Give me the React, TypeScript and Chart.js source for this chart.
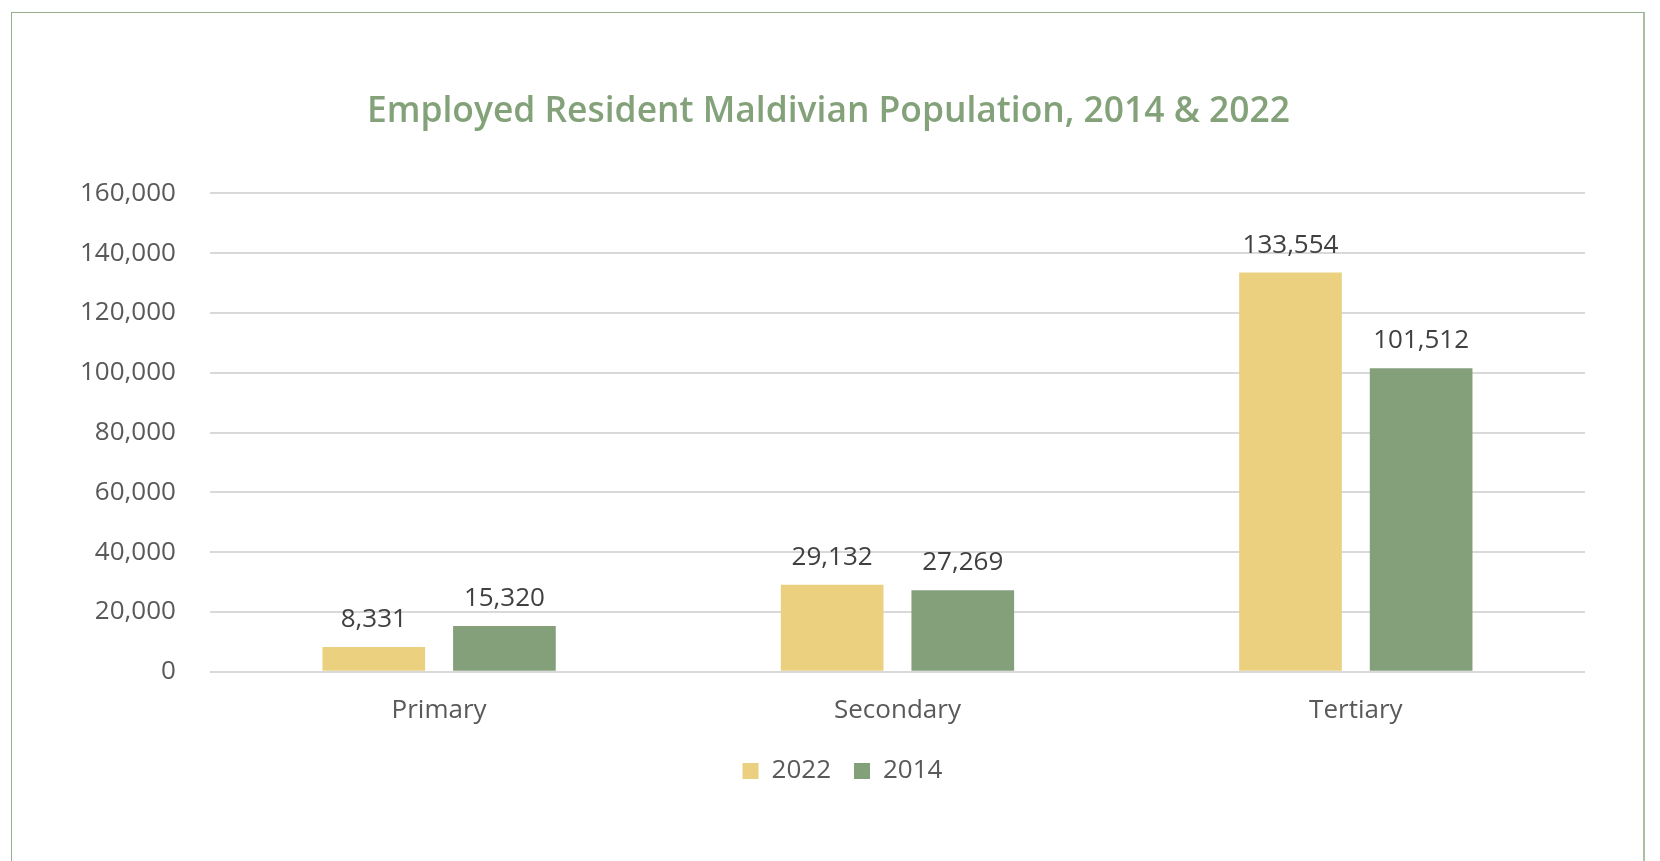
import React, { useEffect, useRef } from "react";
import { Chart, registerables } from "chart.js";

Chart.register(...registerables);

const categories = ["Primary", "Secondary", "Tertiary"];
const series2022 = [8331, 29132, 133554];
const series2014 = [15320, 27269, 101512];
const seriesLabels = ["2022", "2014"];
const yTicks = [0, 20000, 40000, 60000, 80000, 100000, 120000, 140000, 160000];
const titleText = "Employed Resident Maldivian Population, 2014 & 2022";

const FONT = "'Open Sans', 'Noto Sans', sans-serif";
const YELLOW = "#EBD080";
const GREEN = "#84A07B";

const dataLabelPlugin = {
  id: "dataLabels",
  afterLayout(chart: any) {
    // centre title and legend on the whole frame rather than the padded box
    const t = chart.titleBlock;
    if (t) {
      t.left += 13;
      t.right += 13;
    }
    const l = chart.legend;
    if (l) {
      l.left += 27;
      l.right += 27;
      l.top -= 1;
      l.bottom -= 1;
    }
  },
  afterDatasetsDraw(chart: any) {
    const ctx = chart.ctx;
    ctx.save();
    ctx.font = `26px ${FONT}`;
    ctx.fillStyle = "#404040";
    ctx.textAlign = "center";
    ctx.textBaseline = "alphabetic";
    chart.data.datasets.forEach((ds: any, i: number) => {
      const meta = chart.getDatasetMeta(i);
      meta.data.forEach((el: any, j: number) => {
        const v = ds.data[j] as number;
        ctx.fillText(v.toLocaleString("en-US"), el.x, el.y - 20);
      });
    });
    ctx.restore();
  },
};

export default function App() {
  const ref = useRef<HTMLCanvasElement | null>(null);
  useEffect(() => {
    if (!ref.current) return;
    const chart = new Chart(ref.current, {
      type: "bar",
      data: {
        labels: categories,
        datasets: [
          {
            label: seriesLabels[0],
            data: series2022,
            backgroundColor: YELLOW,
            barPercentage: 0.786,
            categoryPercentage: 0.57,
          },
          {
            label: seriesLabels[1],
            data: series2014,
            backgroundColor: GREEN,
            barPercentage: 0.786,
            categoryPercentage: 0.57,
          },
        ],
      },
      options: {
        animation: false,
        responsive: false,
        maintainAspectRatio: false,
        layout: { padding: { left: 46, right: 75, top: 0, bottom: 66 } },
        plugins: {
          tooltip: { enabled: false },
          title: {
            display: true,
            text: titleText,
            color: "#84A27A",
            font: { family: FONT, size: 35.4, weight: "600" as any },
            padding: { top: 91, bottom: 60 },
          },
          legend: {
            position: "bottom",
            labels: {
              boxWidth: 16,
              boxHeight: 16,
              padding: 23,
              color: "#595959",
              font: { family: FONT, size: 26 },
            },
          },
        },
        scales: {
          x: {
            grid: { display: false, drawTicks: false },
            border: { display: false },
            ticks: {
              color: "#595959",
              font: { family: FONT, size: 26 },
              padding: 23,
            },
            afterFit(scale: any) {
              scale.height -= 13;
            },
          },
          y: {
            min: 0,
            max: 160000,
            afterBuildTicks(scale: any) {
              scale.ticks = yTicks.map((v) => ({ value: v }));
            },
            grid: { color: "#D9D9D9", lineWidth: 2, drawTicks: false },
            border: { display: false },
            ticks: {
              color: "#595959",
              font: { family: FONT, size: 26 },
              padding: 34,
              callback: (v: any) => Number(v).toLocaleString("en-US"),
            },
          },
        },
      },
      plugins: [dataLabelPlugin],
    });
    return () => chart.destroy();
  }, []);

  return (
    <div style={{ position: "absolute", left: 0, top: 0, width: 1660, height: 861, overflow: "hidden", background: "#fff" }}>
      <div
        style={{
          position: "absolute",
          left: 11,
          top: 12,
          width: 1634,
          height: 900,
          borderLeft: "1px solid #93B08A",
          borderTop: "1px solid #93B08A",
          borderRight: "2px solid #A9C0A1",
          boxSizing: "border-box",
        }}
      />
      <canvas ref={ref} width={1660} height={861} style={{ position: "absolute", left: 0, top: 0 }} />
    </div>
  );
}
